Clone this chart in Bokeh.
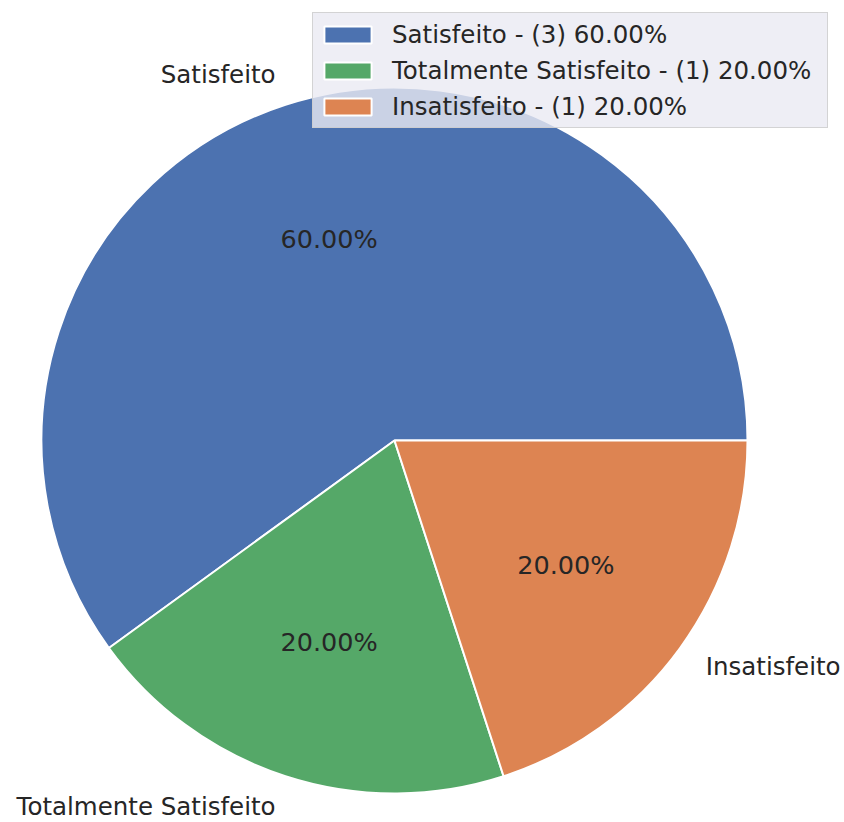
import math
from bokeh.plotting import figure
from bokeh.models import Range1d, ColumnDataSource, Legend, LegendItem
from bokeh.embed import file_html
from bokeh.resources import INLINE
from bokeh.core.properties import value

# ---- data ----
categories = ["Satisfeito", "Totalmente Satisfeito", "Insatisfeito"]
counts = [3, 1, 1]
colors = ["#4C72B0", "#55A868", "#DD8452"]

# ---- layout / style ----
W, H = 844, 822
R_PX = 353.0           # pie radius in pixels
CX, CY = 394.0, 440.0  # pie center in canvas pixels (from top-left)
FONT = "DejaVu Sans"
TEXT_COLOR = "#262626"
label_radius = 1.09
pct_radius = 0.6

total = float(sum(counts))
fracs = [c / total for c in counts]
starts, ends = [], []
acc = 0.0
for f in fracs:
    starts.append(acc * 2 * math.pi)
    acc += f
    ends.append(acc * 2 * math.pi)
mids = [(s + e) / 2 for s, e in zip(starts, ends)]
pcts = [f * 100 for f in fracs]

p = figure(width=W, height=H, output_backend="svg", toolbar_location=None,
           x_range=Range1d(-CX / R_PX, (W - CX) / R_PX),
           y_range=Range1d(-(H - CY) / R_PX, CY / R_PX),
           x_axis_type=None, y_axis_type=None,
           min_border=0, min_border_left=0, min_border_right=0,
           min_border_top=0, min_border_bottom=0)
p.grid.visible = False
p.outline_line_color = None
p.background_fill_color = "white"
p.border_fill_color = "white"

src = ColumnDataSource(dict(x=[0.0] * len(counts), y=[0.0] * len(counts),
                            start=starts, end=ends, color=colors))
wr = p.wedge(x="x", y="y", radius=1.0, start_angle="start", end_angle="end",
             direction="anticlock", fill_color="color", line_color="white",
             line_width=2, source=src)

# percentage labels
p.text(x=[pct_radius * math.cos(m) for m in mids],
       y=[pct_radius * math.sin(m) for m in mids],
       text=["%.2f%%" % v for v in pcts],
       text_align="center", text_baseline="middle",
       text_font=value(FONT), text_font_size="25.5px", text_color=TEXT_COLOR)

# category labels
lx = [label_radius * math.cos(m) for m in mids]
ly = [label_radius * math.sin(m) for m in mids]
aligns = ["right" if x < 0 else "left" for x in lx]
lsrc = ColumnDataSource(dict(x=lx, y=ly, text=categories, align=aligns))
p.text(x="x", y="y", text="text", text_align="align", text_baseline="middle",
       text_font=value(FONT), text_font_size="24.5px", text_color=TEXT_COLOR,
       source=lsrc)

items = [LegendItem(label="%s - (%d) %.2f%%" % (c, n, v), renderers=[wr], index=i)
         for i, (c, n, v) in enumerate(zip(categories, counts, pcts))]
legend = Legend(items=items, location=(312, 694),
                background_fill_color="#EAEAF2", background_fill_alpha=0.8,
                border_line_color="#CCCCCC", border_line_alpha=0.8, border_line_width=1,
                label_text_font=FONT, label_text_font_size="24.5px",
                label_text_color=TEXT_COLOR,
                glyph_width=59, glyph_height=21, label_height=32, label_width=430,
                label_standoff=15, spacing=4, padding=5, margin=0)
p.add_layout(legend)

open("out.html", "w").write(file_html(p, INLINE))
